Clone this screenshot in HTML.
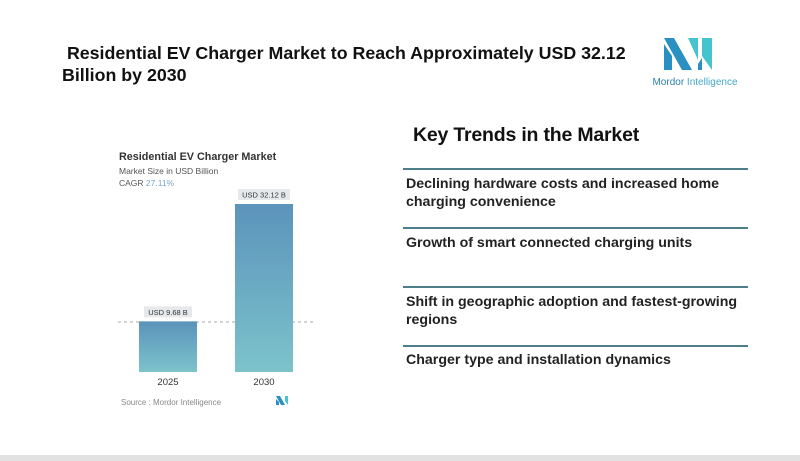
<!DOCTYPE html>
<html><head><meta charset="utf-8"><style>
body{margin:0;width:800px;height:461px;background:#fff;position:relative;overflow:hidden;font-family:"Liberation Sans",sans-serif;}
.abs{position:absolute;}
.title{left:62px;top:42px;font-size:17.8px;font-weight:bold;color:#111;line-height:22px;width:620px;}
.kt{left:413px;top:124px;font-size:19.5px;color:#111;font-weight:bold;letter-spacing:-0.2px;}
.sep{left:403px;width:345px;height:2px;background:#4d7f8a;}
.tr{left:406px;font-size:14.2px;font-weight:bold;color:#222;line-height:18px;width:345px;}
</style></head><body>
<div class="abs title">&nbsp;Residential EV Charger Market to Reach Approximately USD 32.12<br>Billion by 2030</div>

<svg class="abs" style="left:640px;top:36px" width="110" height="54">
<polygon points="24,2 34,2 52,34 42,34" fill="#2a8fc1"/>
<polygon points="24,8 32,20 32,34 24,34" fill="#2a8fc1"/>
<polygon points="48,2 58,2 58,24" fill="#45c3cf"/>
<polygon points="62,2 72,2 72,34 62,20" fill="#45c3cf"/>
<polygon points="58,28 62,22 62,34 58,34" fill="#2a8fc1"/>
<text x="55" y="49" text-anchor="middle" font-size="10" fill="#2a7fb5" font-family="Liberation Sans">Mordor <tspan fill="#45a9c9">Intelligence</tspan></text>
</svg>

<div class="abs kt">Key Trends in the Market</div>
<div class="abs sep" style="top:168px"></div>
<div class="abs tr" style="top:175px">Declining hardware costs and increased home charging convenience</div>
<div class="abs sep" style="top:227px"></div>
<div class="abs tr" style="top:234px">Growth of smart connected charging units</div>
<div class="abs sep" style="top:286px"></div>
<div class="abs tr" style="top:293px">Shift in geographic adoption and fastest-growing regions</div>
<div class="abs sep" style="top:345px"></div>
<div class="abs tr" style="top:351px">Charger type and installation dynamics</div>

<svg id="chart" class="abs" style="left:0;top:0" width="400" height="461">
<defs><linearGradient id="g" x1="0" y1="0" x2="0" y2="1"><stop offset="0" stop-color="#5b93bb"/><stop offset="1" stop-color="#7cc3cb"/></linearGradient></defs>
<text x="119" y="160" font-size="10.8" font-weight="bold" fill="#333">Residential EV Charger Market</text>
<text x="119" y="174" font-size="8.5" fill="#555">Market Size in USD Billion</text>
<text x="119" y="186" font-size="8.5" fill="#555">CAGR <tspan fill="#7aa7c7">27.11%</tspan></text>
<line x1="118" x2="316" y1="322" y2="322" stroke="#aaa" stroke-dasharray="3,3"/>
<text x="121" y="405" font-size="8" fill="#888">Source :  Mordor Intelligence</text>
<g transform="translate(276,396)"><polygon points="0,0 4,0 9,9 5,9" fill="#2a8fc1"/><polygon points="9,0 12,0 12,9 9,5" fill="#45c3cf"/><polygon points="0,3 3,6 3,9 0,9" fill="#2a8fc1"/></g>
</svg>
<script>
const categories=["2025","2030"];
const values=[9.68,32.12];
const labels=["USD 9.68 B","USD 32.12 B"];
const svg=document.getElementById('chart');
const NS="http://www.w3.org/2000/svg";
const base=372, scale=168/32.12;
const xPos=i=>139+i*96, bw=58;
const y=v=>base-v*scale;
categories.forEach((c,i)=>{
  const r=document.createElementNS(NS,'rect');
  r.setAttribute('x',xPos(i));r.setAttribute('y',y(values[i]));r.setAttribute('width',bw);r.setAttribute('height',base-y(values[i]));r.setAttribute('fill','url(#g)');
  
  
  svg.appendChild(r);
  const lb=document.createElementNS(NS,'rect');
  const lw=i?52:48;
  lb.setAttribute('x',xPos(i)+bw/2-lw/2);lb.setAttribute('y',y(values[i])-15);lb.setAttribute('width',lw);lb.setAttribute('height',11);lb.setAttribute('fill','#e6e9ec');
  
  
  svg.appendChild(lb);
  const t=document.createElementNS(NS,'text');
  t.setAttribute('x',xPos(i)+bw/2);t.setAttribute('y',y(values[i])-6.5);t.setAttribute('text-anchor','middle');t.setAttribute('font-size','7.5');t.setAttribute('fill','#333');
  t.textContent=labels[i];
  
  
  svg.appendChild(t);
  const x=document.createElementNS(NS,'text');
  x.setAttribute('x',xPos(i)+bw/2);x.setAttribute('y',385);x.setAttribute('text-anchor','middle');x.setAttribute('font-size','9.5');x.setAttribute('fill','#333');
  x.textContent=c;
  
  
  svg.appendChild(x);
});
</script>
<div class="abs" style="left:0;top:455px;width:800px;height:6px;background:#e2e2e2"></div>
</body></html>
